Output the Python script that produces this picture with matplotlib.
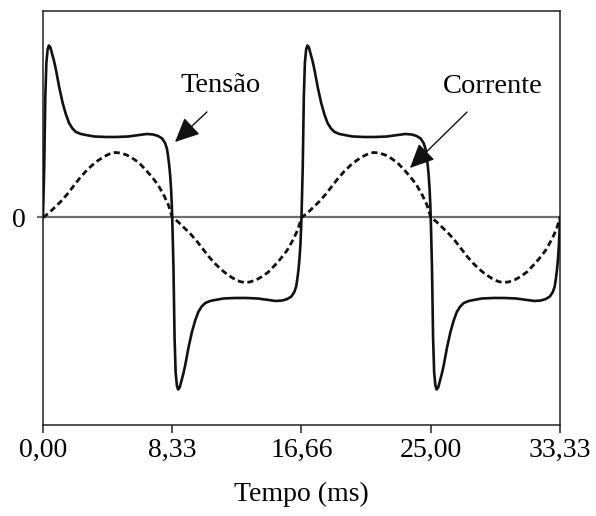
import numpy as np
import matplotlib.pyplot as plt

plt.rcParams['font.family'] = ['Liberation Serif', 'DejaVu Serif']

# meio ciclo (ms, valor relativo)
t_tensao = [0.00, 0.08, 0.15, 0.22, 0.30, 0.38, 0.48, 0.60, 0.72, 0.84, 1.05, 1.27,
            1.48, 1.68, 1.90, 2.13, 2.45, 2.77, 3.30, 4.06, 4.75, 5.50, 6.20, 6.69,
            7.10, 7.42, 7.68, 7.87, 7.99, 8.06, 8.14, 8.20, 8.26, 8.30, 8.3325]
v_tensao = [0.00, 0.50, 1.20, 1.55, 1.68, 1.72, 1.70, 1.63, 1.56, 1.475, 1.30, 1.145,
            1.03, 0.945, 0.89, 0.855, 0.835, 0.825, 0.81, 0.805, 0.805, 0.81, 0.825, 0.835,
            0.83, 0.815, 0.79, 0.745, 0.69, 0.62, 0.52, 0.42, 0.28, 0.14, 0.00]

t_corrente = [0.00, 0.35, 0.75, 1.15, 1.55, 1.95, 2.35, 2.75, 3.15, 3.55, 3.95, 4.35,
              4.65, 5.00, 5.40, 5.80, 6.20, 6.60, 7.00, 7.40, 7.80, 8.10, 8.3325]
i_corrente = [0.00, 0.04, 0.10, 0.16, 0.23, 0.31, 0.39, 0.46, 0.52, 0.57, 0.61, 0.64,
              0.65, 0.645, 0.625, 0.59, 0.545, 0.48, 0.41, 0.33, 0.22, 0.12, 0.00]

meio_periodo = 8.3325
n_meios = 4

xticks = [0.0, 8.33, 16.66, 25.00, 33.33]
xticklabels = ['0,00', '8,33', '16,66', '25,00', '33,33']


def monta_onda(t_half, y_half):
    # repete o meio ciclo alternando o sinal (simetria de meia onda)
    t_half = np.array(t_half)
    y_half = np.array(y_half)
    ts, ys = [], []
    for k in range(n_meios):
        sl = slice(None) if k == n_meios - 1 else slice(None, -1)
        ts.append(t_half[sl] + k * meio_periodo)
        ys.append(((-1) ** k) * y_half[sl])
    return np.concatenate(ts), np.concatenate(ys)


tv, vv = monta_onda(t_tensao, v_tensao)
tc, ic = monta_onda(t_corrente, i_corrente)

fig = plt.figure(figsize=(5.96, 5.16), dpi=100)
ax = fig.add_axes([0.0721, 0.1764, 0.8675, 0.8023])

ax.axhline(0, color='#6e6e6e', lw=1.6, zorder=1)
ax.plot(tc, ic, color='#111111', lw=2.0, ls=(0, (2.2, 1.3)), zorder=2)
ax.plot(tv, vv, color='#111111', lw=1.9, zorder=3)

ax.set_xlim(0, 33.33)
ax.set_ylim(-2.075, 2.065)

ax.set_xticks(xticks)
ax.set_xticklabels(xticklabels)
ax.set_yticks([0])
ax.set_yticklabels(['0'])
ax.tick_params(axis='x', direction='out', length=6, width=1.1, color='#222222',
               labelsize=20, pad=3)
ax.tick_params(axis='y', direction='out', length=4.5, width=1.6, color='#6e6e6e',
               labelsize=20, pad=8)

for s in ax.spines.values():
    s.set_color('#222222')
    s.set_linewidth(1.1)

ax.set_xlabel('Tempo (ms)', fontsize=20, labelpad=14)

seta = dict(arrowstyle='-|>,head_length=0.75,head_width=0.35', lw=1.0,
            color='#111111', mutation_scale=20, shrinkA=0, shrinkB=0)
ax.annotate('', xy=(8.51, 0.755), xytext=(10.57, 1.055), arrowprops=seta)
ax.text(11.48, 1.315, 'Tensão', fontsize=20.5, ha='center', va='center')
ax.annotate('', xy=(23.66, 0.495), xytext=(27.34, 1.055), arrowprops=seta)
ax.text(29.01, 1.305, 'Corrente', fontsize=20.5, ha='center', va='center')

fig.savefig('out.png', dpi=100)
